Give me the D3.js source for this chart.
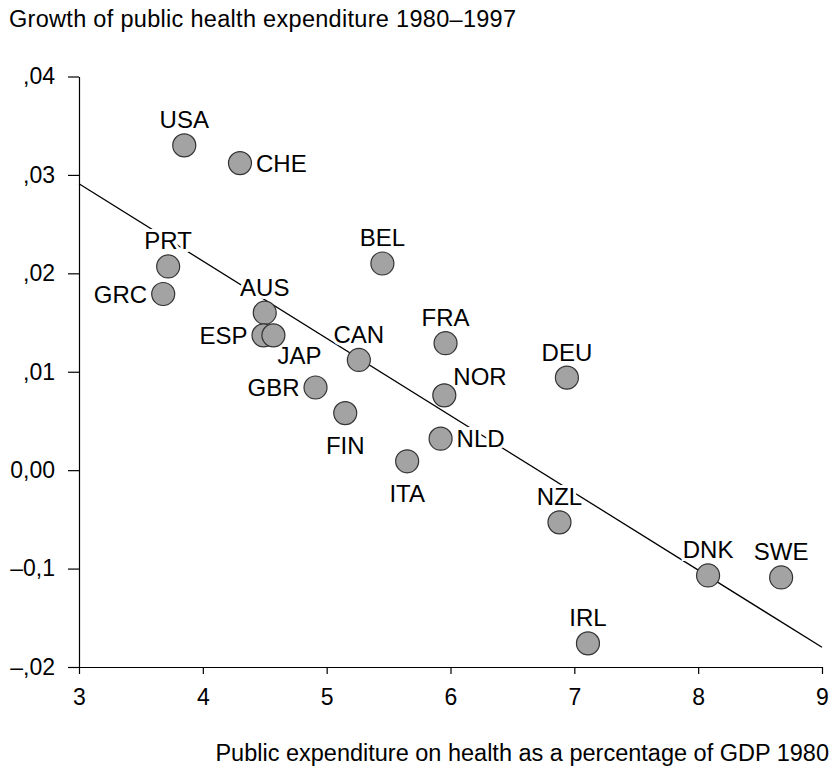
<!DOCTYPE html>
<html>
<head>
<meta charset="utf-8">
<script src="https://cdn.jsdelivr.net/npm/d3@7"></script>
<style>
  body { margin: 0; background: #fff; }
  svg { display: block; font-family: "Liberation Sans", Arial, Helvetica, sans-serif; }
</style>
</head>
<body>
<svg></svg>
<script>

// country codes, x = public health spending % of GDP 1980, y = growth 1980-1997
let countries = ["USA", "CHE", "PRT", "GRC", "BEL", "AUS", "ESP", "JAP", "CAN", "FRA",
                 "DEU", "NOR", "GBR", "FIN", "NLD", "ITA", "NZL", "DNK", "SWE", "IRL"];
let gdpShare = [3.85, 4.30, 3.72, 3.68, 5.45, 4.50, 4.49, 4.57, 5.26, 5.96,
                6.94, 5.95, 4.91, 5.15, 5.92, 5.65, 6.88, 8.08, 8.67, 7.11];
let growth = [0.0330, 0.0312, 0.0207, 0.0179, 0.0210, 0.0160, 0.0137, 0.0137, 0.0112, 0.0129,
              0.0094, 0.0076, 0.0084, 0.0058, 0.0032, 0.0009, -0.0053, -0.0107, -0.0109, -0.0176];

// fitted line end points
let fitX = [3, 9];
let fitY = [0.0291, -0.0180];

let xTicks = [3, 4, 5, 6, 7, 8, 9];
let yTicks = [0.04, 0.03, 0.02, 0.01, 0, -0.01, -0.02];
let yTickLabels = [",04", ",03", ",02", ",01", "0,00", "\u20130,1", "\u2013,02"];

let width = 831, height = 767;

let svg = d3.select("svg")
    .attr("width", width)
    .attr("height", height);

let x = d3.scaleLinear().domain([3, 9]).range([79, 822]);
let y = d3.scaleLinear().domain([-0.02, 0.04]).range([667, 76.5]);

// where each label sits around its dot
let labelPos = {
    USA: "t", CHE: "r", PRT: "t", GRC: "l", BEL: "t", AUS: "t", ESP: "l", JAP: "br",
    CAN: "t", FRA: "t", DEU: "t", NOR: "tr", GBR: "l", FIN: "b", NLD: "r", ITA: "b",
    NZL: "t", DNK: "t", SWE: "t", IRL: "t"
};

let points = countries.map((c, i) => ({ name: c, x: gdpShare[i], y: growth[i] }));

// axes
let yAxis = d3.axisLeft(y)
    .tickValues(yTicks)
    .tickSize(11)
    .tickSizeOuter(0)
    .tickPadding(13)
    .tickFormat((d, i) => yTickLabels[i]);

let xAxis = d3.axisBottom(x)
    .tickValues(xTicks)
    .tickSize(7)
    .tickSizeOuter(0)
    .tickPadding(15)
    .tickFormat(d3.format("d"));

let gy = svg.append("g")
    .attr("transform", "translate(" + x(3) + ",0)")
    .call(yAxis);

let gx = svg.append("g")
    .attr("transform", "translate(0," + y(-0.02) + ")")
    .call(xAxis);

[gx, gy].forEach(g => {
    g.selectAll("path, line").attr("stroke", "#000").attr("stroke-width", 1.2);
    g.selectAll("text").attr("fill", "#000").style("font-size", "23px");
});

// regression line
let line = d3.line().x(d => x(d[0])).y(d => y(d[1]));
svg.append("path")
    .datum(fitX.map((v, i) => [v, fitY[i]]))
    .attr("d", line)
    .attr("fill", "none")
    .attr("stroke", "#000")
    .attr("stroke-width", 1.3);

// labels (white halo cuts the line)
svg.append("g")
    .selectAll("text")
    .data(points)
    .enter()
    .append("text")
    .text(d => d.name)
    .style("font-size", "24px")
    .attr("fill", "#000")
    .attr("stroke", "#fff")
    .attr("stroke-width", 6)
    .attr("paint-order", "stroke")
    .attr("x", d => {
        let p = labelPos[d.name], cx = x(d.x);
        if (p == "r") return cx + 16;
        if (p == "l") return cx - 16;
        if (p == "br") return cx + 26;
        if (p == "tr") return cx + 9;
        return cx;
    })
    .attr("y", d => {
        let p = labelPos[d.name], cy = y(d.y);
        if (p == "t") return cy - 17;
        if (p == "b") return cy + 41;
        if (p == "br") return cy + 29;
        if (p == "tr") return cy - 10;
        return cy + 8.5;
    })
    .attr("text-anchor", d => {
        let p = labelPos[d.name];
        if (p == "r" || p == "tr") return "start";
        if (p == "l") return "end";
        return "middle";
    });

// dots
svg.append("g")
    .selectAll("circle")
    .data(points)
    .enter()
    .append("circle")
    .attr("cx", d => x(d.x))
    .attr("cy", d => y(d.y))
    .attr("r", 11.5)
    .style("fill", "#a3a3a3")
    .style("stroke", "#333")
    .style("stroke-width", 1.2);

// titles
svg.append("text")
    .attr("x", 9)
    .attr("y", 27)
    .text("Growth of public health expenditure 1980\u20131997")
    .style("font-size", "23.5px")
    .style("letter-spacing", "0.3px")
    .attr("fill", "#000");

svg.append("text")
    .attr("x", 829)
    .attr("y", 761)
    .attr("text-anchor", "end")
    .text("Public expenditure on health as a percentage of GDP 1980")
    .style("font-size", "23.5px")
    .attr("fill", "#000");

</script>
</body>
</html>
